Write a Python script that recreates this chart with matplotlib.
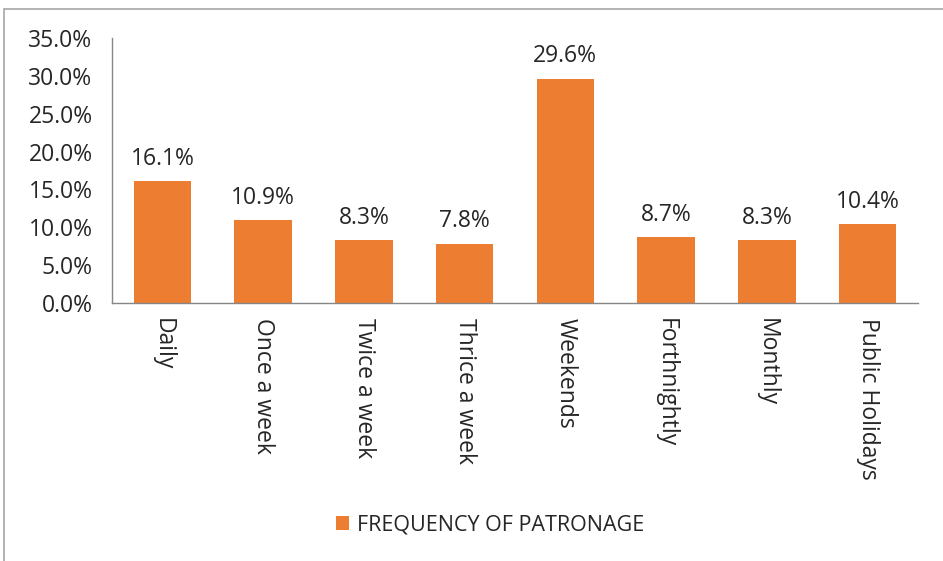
import numpy as np
import matplotlib.pyplot as plt
from matplotlib.patches import Rectangle
from matplotlib.ticker import PercentFormatter

categories = ['Daily', 'Once a week', 'Twice a week', 'Thrice a week',
              'Weekends', 'Forthnightly', 'Monthly', 'Public Holidays']
values = [16.1, 10.9, 8.3, 7.8, 29.6, 8.7, 8.3, 10.4]
series_name = 'FREQUENCY OF PATRONAGE'

plt.rcParams['font.family'] = ['Open Sans', 'DejaVu Sans']
W, H = 943, 561
fig = plt.figure(figsize=(W / 100, H / 100), dpi=100)

# outer chart border (cut off on right/bottom like the original)
fig.patches.append(Rectangle((4 / W, -0.1), 1.2, 1.1 - 9 / H, transform=fig.transFigure,
                             fill=False, edgecolor='#a6a6a6', linewidth=1.2))

ax = fig.add_axes([112 / W, 1 - 303 / H, 806 / W, (303 - 38) / H])
x = np.arange(len(categories))
bars = ax.bar(x, values, width=0.57, color='#ED7D31', label=series_name)

for xi, v in zip(x, values):
    ax.text(xi, v + 1.4, f'{v:.1f}%', ha='center', va='bottom', fontsize=16.5, color='#262626')

ax.set_xlim(-0.5, len(categories) - 0.5)
ax.set_ylim(0, 35)
ax.set_yticks(np.arange(0, 36, 5))
ax.yaxis.set_major_formatter(PercentFormatter(decimals=1))
ax.set_xticks(x)
ax.set_xticklabels(categories, rotation=-90, fontsize=16.5, color='#262626')
ax.tick_params(axis='y', labelsize=16.5, labelcolor='#262626', length=0, pad=14)
ax.tick_params(axis='x', length=0, pad=11)
for s in ['top', 'right']:
    ax.spines[s].set_visible(False)
for s in ['left', 'bottom']:
    ax.spines[s].set_color('#868686')
    ax.spines[s].set_linewidth(1)

fig.legend(handles=[bars], labels=[series_name], loc='center', bbox_to_anchor=(490 / W, 1 - 525 / H),
           frameon=False, fontsize=15.5, handlelength=0.6, handleheight=0.6, handletextpad=0.4,
           labelcolor='#262626')

fig.savefig('out.png', dpi=100)
